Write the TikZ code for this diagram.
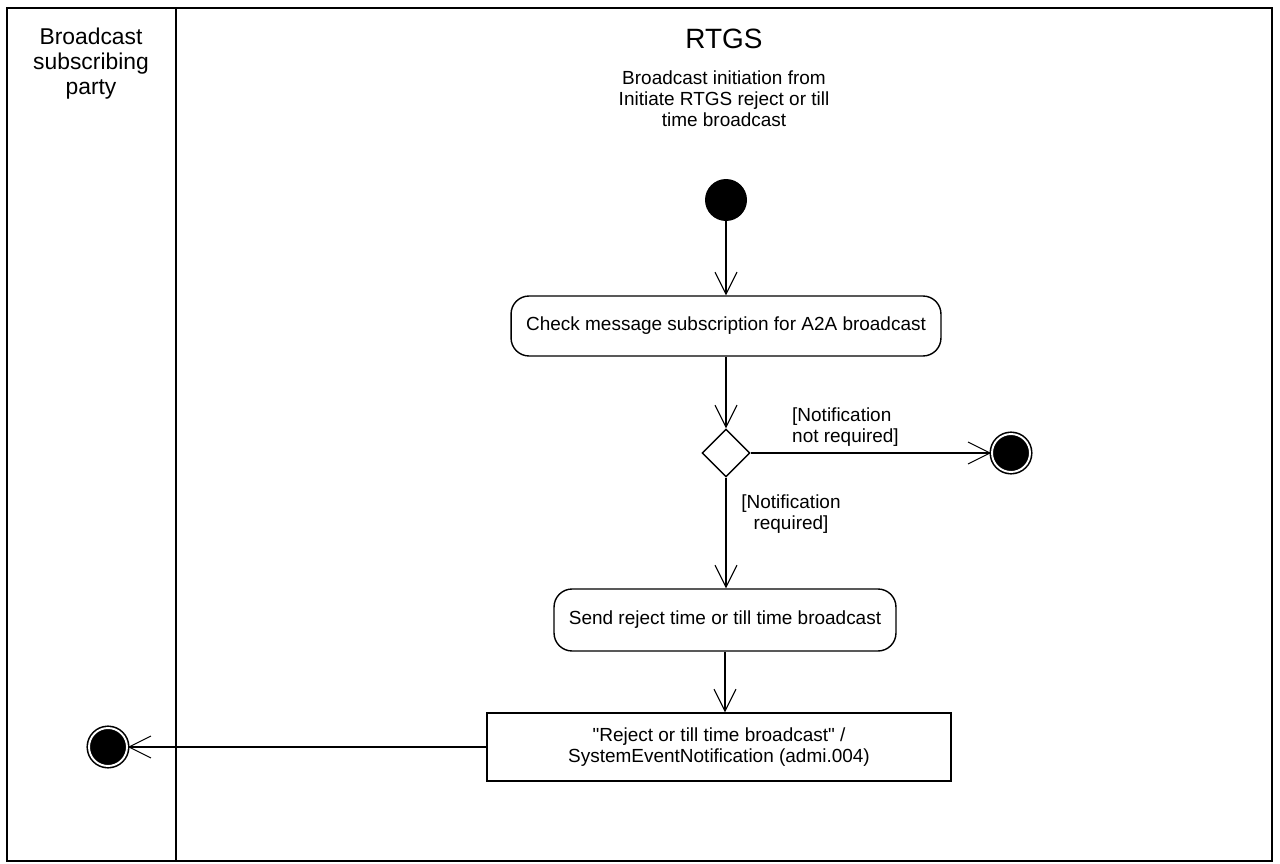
\documentclass[tikz,border=0pt]{standalone}
\usepackage{fontspec}
\setmainfont{Liberation Sans}
\usetikzlibrary{shapes.geometric, arrows.meta}

\begin{document}
\begin{tikzpicture}[x=0.02cm, y=-0.02cm, >={Straight Barb[length=0.44cm, width=0.44cm]},
  every node/.style={font=\fontsize{10.8}{11.9}\selectfont},
  actionbox/.style={draw, rounded corners=0.36cm, line width=0.8pt, minimum height=1.2cm, inner sep=0pt},
  msgbox/.style={draw, line width=0.8pt, minimum height=1.36cm, align=center, inner sep=0pt},
  flow/.style={->, line width=0.6pt},
  startdot/.style={circle, fill=black, minimum size=0.84cm, inner sep=0pt},
  enddot/.style={circle, fill=black, draw=black, double=white, double distance=1.1pt, line width=0.9pt, minimum size=0.76cm, inner sep=0pt},
  choice/.style={diamond, draw, aspect=1, line width=0.8pt, minimum width=0.96cm, minimum height=0.96cm, inner sep=0pt}]
  \useasboundingbox (0,0) rectangle (1280,864);

  % Swimlanes
  \draw[line width=1.1pt] (7,8) rectangle (1272,861);
  \draw[line width=1.1pt] (176,8) -- (176,861);
  \node[align=center, font=\fontsize{13}{14.2}\selectfont] (laneparty) at (91,64) {Broadcast\\subscribing\\party};
  \node[font=\fontsize{15.9}{18}\selectfont] (lanertgs) at (724,39) {RTGS};
  \node[align=center] (initnote) at (724,99) {Broadcast initiation from\\Initiate RTGS reject or till\\time broadcast};

  % Activity nodes
  \node[startdot] (start) at (726,200) {};
  \node[actionbox, minimum width=8.6cm] (check) at (726,326) {Check message subscription for A2A broadcast};
  \node[choice] (decide) at (726,453) {};
  \node[enddot] (endright) at (1011,453) {};
  \node[actionbox, minimum width=6.84cm, minimum height=1.24cm] (send) at (725,620) {Send reject time or till time broadcast};
  \node[msgbox, minimum width=9.28cm] (notify) at (719,747) {\textquotedbl Reject or till time broadcast\textquotedbl{} /\\SystemEventNotification (admi.004)};
  \node[enddot] (endleft) at (108,747) {};

  % Flows
  \draw[flow] (start) -- (check);
  \draw[flow] (check) -- (decide);
  \draw[flow] (decide) -- (endright);
  \node[align=left, anchor=west] (notreq) at (786,427) {[Notification\\not required]};
  \draw[flow] (decide.south) -- (decide.south |- send.north);
  \node[align=center] (req) at (791,514) {[Notification\\required]};
  \draw[flow] (send.south) -- (send.south |- notify.north);
  \draw[flow] (notify.west) -- (endleft);

\end{tikzpicture}
\end{document}
